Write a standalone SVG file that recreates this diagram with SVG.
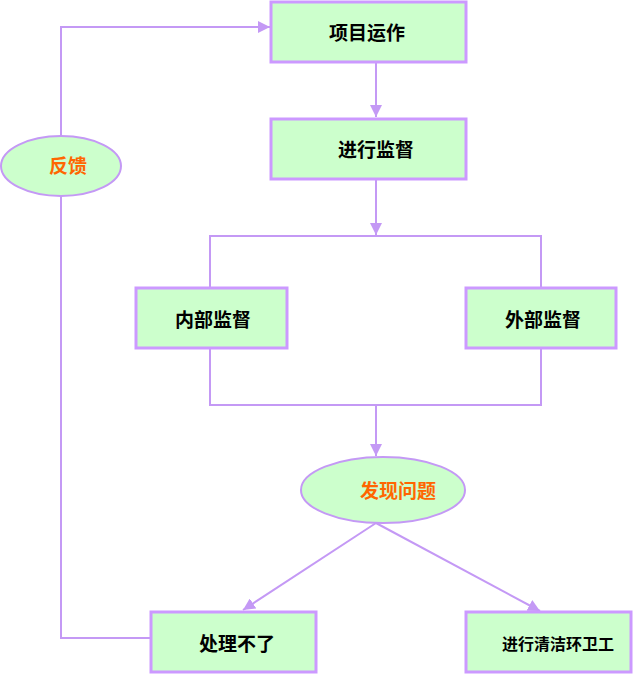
<svg xmlns="http://www.w3.org/2000/svg" width="633" height="674" viewBox="0 0 633 674">
<style>
.box{fill:#CCFFCC;stroke:#CC99FF;stroke-width:3}
.ell{fill:#CCFFCC;stroke:#C499F5;stroke-width:2}
.t{font-family:"Noto Sans CJK SC",sans-serif;font-size:19px;font-weight:bold;fill:#000;text-anchor:middle}
.o{fill:#FF6600}
.ln{fill:none;stroke:#C499F5;stroke-width:2}
</style>
<defs>
<marker id="a" viewBox="0 0 10 10" refX="10" refY="5" markerWidth="12" markerHeight="12" orient="auto" markerUnits="userSpaceOnUse">
<path d="M0,0 L10,5 L0,10 z" fill="#C499F5"/>
</marker>
</defs>
<g id="connectors">
<path class="ln" d="M376,63 V117" marker-end="url(#a)"/>
<path class="ln" d="M376,180 V235" marker-end="url(#a)"/>
<path class="ln" d="M210,288 V236 H541 V288"/>
<path class="ln" d="M210,349 V405 H541 V349"/>
<path class="ln" d="M376,405 V456" marker-end="url(#a)"/>
<path class="ln" d="M376,523 L243,610" marker-end="url(#a)"/>
<path class="ln" d="M376,523 L540,611" marker-end="url(#a)"/>
<path class="ln" d="M151,638 H61 V196"/>
<path class="ln" d="M61,136 V27 H270" marker-end="url(#a)"/>
</g>
<g id="n1"><rect class="box" x="271" y="2" width="195" height="60"/><text class="t" x="367" y="40">项目运作</text></g>
<g id="n2"><rect class="box" x="271" y="119" width="195" height="60"/><text class="t" x="376" y="157">进行监督</text></g>
<g id="n3"><rect class="box" x="136" y="288" width="151" height="60"/><text class="t" x="213" y="327">内部监督</text></g>
<g id="n4"><rect class="box" x="466" y="288" width="150" height="60"/><text class="t" x="543" y="327">外部监督</text></g>
<g id="n5"><ellipse class="ell" cx="383" cy="490" rx="82" ry="33"/><text class="t o" x="398" y="498">发现问题</text></g>
<g id="n6"><rect class="box" x="151" y="612" width="165" height="60"/><text class="t" x="237" y="651">处理不了</text></g>
<g id="n7"><rect class="box" x="466" y="612" width="165" height="60"/><text class="t" x="558" y="650" style="font-size:16px">进行清洁环卫工</text></g>
<g id="n8"><ellipse class="ell" cx="61" cy="166" rx="60" ry="30"/><text class="t o" x="68" y="173">反馈</text></g>
</svg>
